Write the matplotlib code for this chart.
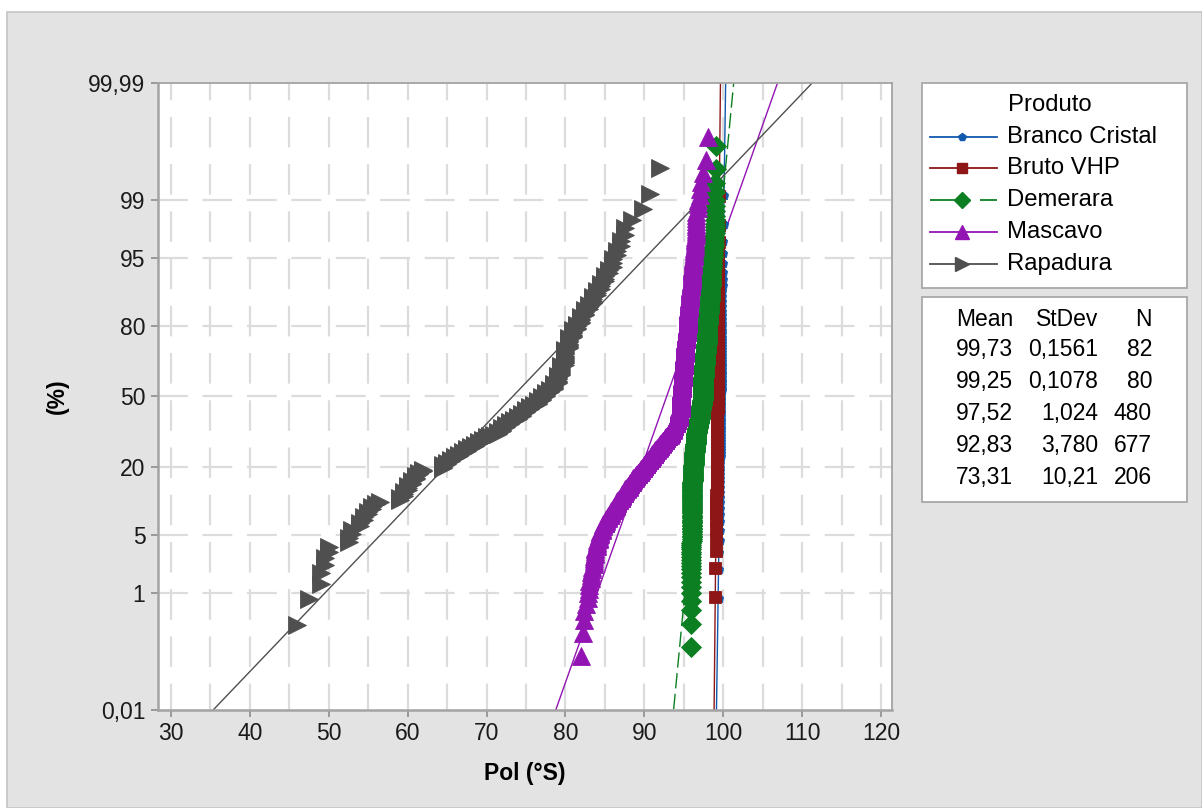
import numpy as np
import matplotlib
matplotlib.use("Agg")
import matplotlib.pyplot as plt
from matplotlib.lines import Line2D
from matplotlib.patches import Rectangle
from matplotlib.ticker import FixedLocator, MultipleLocator
from statistics import NormalDist

plt.rcParams['font.family'] = ['Liberation Sans', 'DejaVu Sans']
plt.rcParams['lines.scale_dashes'] = False

# groups, in drawing order
produtos = ["Branco Cristal", "Bruto VHP", "Demerara", "Mascavo", "Rapadura"]
cores = ["#1059ad", "#8e1616", "#0b7f22", "#9214b3", "#4f4f4f"]
marcadores = ["p", "s", "D", "^", ">"]
tamanhos = [6.5, 8.5, 10, 12.5, 12.5]
estilos = ["-", "-", (0, (11, 4)), "-", "-"]

# summary table
medias = [99.73, 99.25, 97.52, 92.83, 73.31]
desvios = [0.1561, 0.1078, 1.024, 3.780, 10.21]
ns = [82, 80, 480, 677, 206]

# Pol readings (°S) as value / count tables
branco_vals = [99.5, 99.6, 99.7, 99.8, 99.9, 100.0, 100.1]
branco_counts = [3, 16, 24, 20, 11, 6, 2]

bruto_vals = [99.0, 99.1, 99.2, 99.3, 99.4, 99.5]
bruto_counts = [2, 8, 25, 30, 12, 3]

demerara_vals = [95.9, 96.0, 96.1, 96.2, 96.3, 96.4, 96.5, 96.6,
                 96.7, 96.8, 96.9, 97.0, 97.1, 97.2, 97.3,
                 97.4, 97.5, 97.6, 97.7,
                 97.8, 97.9, 98.0, 98.1, 98.2, 98.3,
                 98.4, 98.5, 98.6, 98.7, 98.8, 98.9, 99.0, 99.1]
demerara_counts = [20, 25, 30, 25, 22, 15, 12, 11,
                   10, 10, 10, 10, 10, 10, 12,
                   26, 26, 26, 25,
                   17, 17, 17, 16, 16, 16,
                   8, 7, 7, 6, 5, 5, 6, 2]

mascavo_vals = [82.0, 82.2, 82.4, 82.6, 82.8, 83.0, 83.2, 83.4,
                83.6, 83.8, 84.0, 84.2, 84.4, 84.6,
                84.8, 85.0, 85.2, 85.4, 85.6, 85.8, 86.0, 86.2,
                86.4, 86.6, 86.8, 87.0, 87.2, 87.4, 87.6, 87.8,
                88.0, 88.2, 88.4, 88.6, 88.8, 89.0, 89.2, 89.4, 89.6, 89.8,
                90.0, 90.2, 90.4, 90.6, 90.8, 91.0, 91.2, 91.4,
                91.6, 91.8, 92.0, 92.2, 92.4, 92.6, 92.8, 93.0, 93.2,
                93.4, 93.6, 93.8, 94.0, 94.2, 94.4, 94.6,
                94.7, 94.8, 94.9, 95.0,
                95.1, 95.2, 95.3, 95.4, 95.5, 95.6, 95.7, 95.8,
                95.9, 96.0, 96.1, 96.2, 96.3, 96.4, 96.5,
                96.6, 96.8, 97.0, 97.2, 97.4, 97.8, 98.1]
mascavo_counts = [1, 1, 2, 1, 2, 3, 3, 2,
                  5, 5, 5, 4, 4, 3,
                  3, 3, 3, 3, 3, 3, 3, 3,
                  4, 4, 3, 4, 4, 4, 4, 4,
                  4, 4, 5, 4, 3, 4, 4, 5, 4, 4,
                  5, 5, 4, 5, 6, 5, 5, 6,
                  5, 5, 6, 5, 5, 6, 5, 5, 5,
                  9, 10, 10, 10, 10, 27, 27,
                  36, 36, 36, 36,
                  18, 18, 18, 18, 17, 17, 17, 17,
                  8, 8, 8, 8, 7, 7, 7,
                  3, 3, 2, 1, 1, 1, 1]

rapadura_vals = [46.0, 47.5, 49.0, 49.5, 50.0, 52.5, 53.0,
                 54.0, 54.5, 55.0, 55.5, 56.0, 56.5,
                 59.0, 59.5, 60.0, 60.5, 61.0, 61.5, 62.0,
                 64.5, 65.0, 65.5, 66.0, 66.5, 67.0, 67.5,
                 68.0, 68.5, 69.0, 69.5, 70.0, 70.5, 71.0,
                 71.5, 72.0, 72.5, 73.0, 73.5,
                 74.0, 74.5, 75.0, 75.5, 76.0,
                 76.5, 77.0, 77.5, 78.0,
                 78.5, 79.0, 79.5, 80.0, 80.5, 81.0,
                 81.5, 82.0, 82.5, 83.0, 83.5, 84.0,
                 84.5, 85.0, 85.5, 86.0, 86.5, 87.0, 87.5,
                 88.5, 89.8, 90.7, 92.0]
rapadura_counts = [1, 1, 2, 2, 2, 2, 2,
                   2, 2, 2, 2, 1, 1,
                   2, 3, 3, 3, 3, 2, 2,
                   3, 2, 2, 2, 2, 2, 2,
                   2, 2, 2, 2, 2, 1, 1,
                   3, 3, 3, 3, 2,
                   3, 3, 3, 3, 2,
                   4, 4, 4, 3,
                   6, 7, 10, 14, 9, 6,
                   4, 5, 4, 3, 4, 3,
                   3, 3, 2, 3, 2, 2, 2,
                   1, 1, 1, 1]

dados = [np.repeat(branco_vals, branco_counts),
         np.repeat(bruto_vals, bruto_counts),
         np.repeat(demerara_vals, demerara_counts),
         np.repeat(mascavo_vals, mascavo_counts),
         np.repeat(rapadura_vals, rapadura_counts)]

y_ticks = [0.01, 1, 5, 20, 50, 80, 95, 99, 99.99]

nd = NormalDist()
_inv = np.vectorize(nd.inv_cdf, otypes=[float])
_cdf = np.vectorize(nd.cdf, otypes=[float])


def prob_to_z(p):
    p = np.clip(np.asarray(p, dtype=float) / 100.0, 1e-12, 1 - 1e-12)
    return _inv(p)


def z_to_prob(z):
    return 100.0 * _cdf(np.asarray(z, dtype=float))


def virgula(v, fmt):
    return format(v, fmt).replace(".", ",")


W, H = 1202, 808
fig = plt.figure(figsize=(W / 100, H / 100), dpi=100, facecolor="white")


def fx(px):
    return px / W


def fy(py):
    return 1 - py / H


# grey panel behind everything
fig.patches.append(Rectangle((fx(7), 0), 1 - fx(7), fy(12), transform=fig.transFigure,
                             facecolor="#e3e3e3", edgecolor="#c4c4c4", lw=1.2, zorder=-10))

ax = fig.add_axes([fx(158), fy(710), fx(892) - fx(158), fy(83) - fy(710)])
ax.set_facecolor("white")
ax.set_yscale("function", functions=(prob_to_z, z_to_prob))
ax.set_ylim(0.01, 99.99)
ax.set_xlim(28.35, 121.4)

for i, (vals, nome) in enumerate(zip(dados, produtos)):
    v = np.sort(vals)
    n = len(v)
    pos = 100.0 * (np.arange(1, n + 1) - 0.3) / (n + 0.4)
    z = np.array([-4.2, 4.2])
    ax.plot(medias[i] + desvios[i] * z, z_to_prob(z), color=cores[i], lw=1.0,
            linestyle=estilos[i], zorder=2)
    ax.plot(v, pos, linestyle="none", marker=marcadores[i], ms=tamanhos[i],
            color=cores[i], mec=cores[i], mew=0.6, zorder=3 + i)

ax.yaxis.set_major_locator(FixedLocator(y_ticks))
ax.yaxis.set_minor_locator(FixedLocator([]))
ax.set_yticklabels([virgula(t, "g") for t in y_ticks])
ax.xaxis.set_major_locator(MultipleLocator(10))
ax.xaxis.set_minor_locator(MultipleLocator(5))

ax.tick_params(axis="both", which="major", labelsize=16.5, length=5, width=1.2,
               color="#8c8c8c", labelcolor="#1a1a1a", pad=4)
ax.tick_params(axis="x", which="minor", length=0)

grid_kw = dict(color="#dcdcdc", lw=1.6)
for t in y_ticks[1:-1]:
    ax.axhline(t, linestyle=(0, (21.5, 10.5)), zorder=1, **grid_kw)
for xv in np.arange(30, 121, 5):
    ax.axvline(xv, linestyle=(3, (22, 12)), zorder=1, **grid_kw)

for lado, s in ax.spines.items():
    s.set_color("#a3a3a3")
    s.set_linewidth(1.8 if lado in ("left", "bottom") else 1.3)

ax.set_xlabel("Pol (°S)", fontsize=16.5, fontweight="bold", labelpad=12)
ax.set_ylabel("(%)", fontsize=16.5, fontweight="bold", labelpad=14)

# legend box
fig.patches.append(Rectangle((fx(922), fy(288)), fx(1187) - fx(922), fy(83) - fy(288),
                             transform=fig.transFigure, facecolor="white",
                             edgecolor="#a8a8a8", lw=1.3))
fig.text(fx(1050), fy(105), "Produto", fontsize=17.2, ha="center", va="center")
linhas_y = [137, 168, 200, 232, 264]
for i, nome in enumerate(produtos):
    yy = fy(linhas_y[i])
    fig.add_artist(Line2D([fx(930), fx(997)], [yy, yy], transform=fig.transFigure,
                          color=cores[i], lw=1.3, linestyle=estilos[i] if i != 2 else (0, (29, 7))))
    fig.add_artist(Line2D([fx(962)], [yy], transform=fig.transFigure, linestyle="none",
                          marker=marcadores[i], ms=tamanhos[i] * 0.85, color=cores[i]))
    fig.text(fx(1007), yy, nome, fontsize=17.2, ha="left", va="center")

# summary box
fig.patches.append(Rectangle((fx(922), fy(502)), fx(1187) - fx(922), fy(297) - fy(502),
                             transform=fig.transFigure, facecolor="white",
                             edgecolor="#a8a8a8", lw=1.3))
col_x = [1013, 1098, 1152]
fig.text(fx(col_x[0]), fy(319), "Mean", fontsize=16.5, ha="right", va="center")
fig.text(fx(col_x[1]), fy(319), "StDev", fontsize=16.5, ha="right", va="center")
fig.text(fx(col_x[2]), fy(319), "N", fontsize=16.5, ha="right", va="center")
for i in range(len(produtos)):
    yy = fy(350 + i * 31.8)
    fig.text(fx(col_x[0]), yy, virgula(medias[i], ".2f"), fontsize=16.5, ha="right", va="center")
    fig.text(fx(col_x[1]), yy, virgula(desvios[i], "#.4g"), fontsize=16.5, ha="right", va="center")
    fig.text(fx(col_x[2]), yy, str(ns[i]), fontsize=16.5, ha="right", va="center")

fig.savefig("out.png", dpi=100, facecolor=fig.get_facecolor())
